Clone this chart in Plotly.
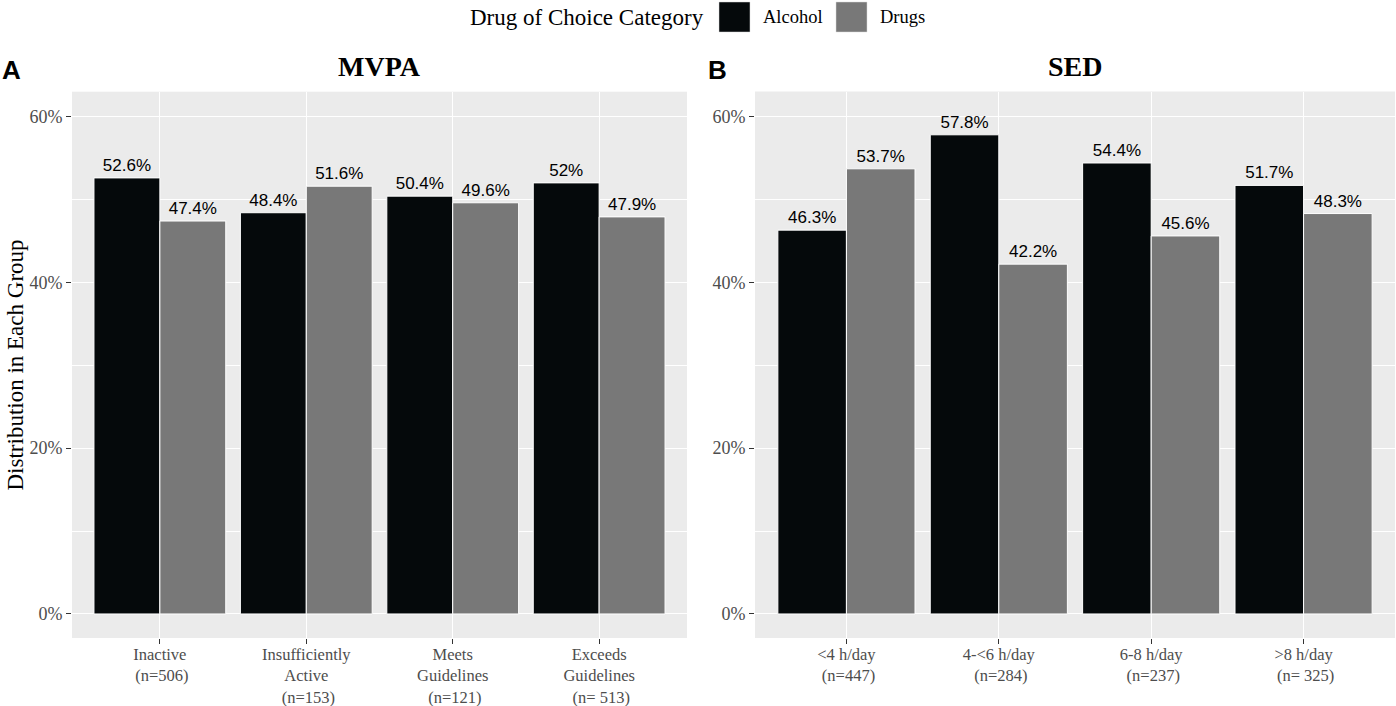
import plotly.graph_objects as go

# ---- data ----
mvpa_categories = ["Inactive<br> (n=506)", "Insufficiently<br>Active<br> (n=153)",
                   "Meets<br>Guidelines<br> (n=121)", "Exceeds<br>Guidelines<br> (n= 513)"]
mvpa_alcohol = [52.6, 48.4, 50.4, 52.0]
mvpa_drugs = [47.4, 51.6, 49.6, 47.9]

sed_categories = ["<4 h/day<br> (n=447)", "4-<6 h/day<br> (n=284)",
                  "6-8 h/day<br> (n=237)", ">8 h/day<br> (n= 325)"]
sed_alcohol = [46.3, 57.8, 54.4, 51.7]
sed_drugs = [53.7, 42.2, 45.6, 48.3]

y_ticks = [0, 20, 40, 60]
y_tick_labels = ["0%", "20%", "40%", "60%"]

series_names = ["Alcohol", "Drugs"]
series_colors = ["#05090B", "#787878"]

W, H = 1396, 706
SERIF = "Liberation Serif, Times New Roman, serif"
SANS = "Liberation Sans, Arial, sans-serif"


def fmt(v):
    return f"{v:g}%"


fig = go.Figure()
for xa, ya, cats, alc, drg in [("x", "y", mvpa_categories, mvpa_alcohol, mvpa_drugs),
                               ("x2", "y2", sed_categories, sed_alcohol, sed_drugs)]:
    for name, color, vals in zip(series_names, series_colors, [alc, drg]):
        fig.add_trace(go.Bar(
            x=cats, y=vals, name=name, xaxis=xa, yaxis=ya,
            marker=dict(color=color, line=dict(color="white", width=1)),
            text=[fmt(v) for v in vals], textposition="outside",
            textfont=dict(family=SANS, size=17, color="black"),
            cliponaxis=False, showlegend=False,
        ))


def px_x(p):
    return p / W


def px_y(p):
    return 1 - p / H


axis_common = dict(
    showgrid=True, gridcolor="white", gridwidth=1.3,
    ticks="outside", ticklen=5, tickcolor="#333333", tickwidth=1,
    tickfont=dict(family=SERIF, size=18, color="#4D4D4D"),
    zeroline=False, showline=False, automargin=False,
)
xaxis_common = dict(axis_common, range=[-0.6, 3.6],
                    tickfont=dict(family=SERIF, size=16.5, color="#4D4D4D"),
                    ticklabelstandoff=-4)
yrange = [-2.9, 63.0]
yaxis_common = dict(
    axis_common, range=yrange, tickvals=y_ticks, ticktext=y_tick_labels,
    minor=dict(tickvals=[10, 30, 50], showgrid=True, gridcolor="white", gridwidth=0.6, ticks=""),
)

fig.update_layout(
    width=W, height=H,
    margin=dict(l=0, r=0, t=0, b=0, autoexpand=False),
    paper_bgcolor="white", plot_bgcolor="#EBEBEB",
    barmode="group", bargap=0.1, bargroupgap=0,
    xaxis=dict(xaxis_common, domain=[px_x(72), px_x(687)], anchor="y"),
    yaxis=dict(yaxis_common, domain=[px_y(638), px_y(91.7)], anchor="x"),
    xaxis2=dict(xaxis_common, domain=[px_x(755), px_x(1395)], anchor="y2"),
    yaxis2=dict(yaxis_common, domain=[px_y(638), px_y(91.7)], anchor="x2"),
    font=dict(family=SERIF),
)

# grey background for the second panel
fig.add_shape(type="rect", xref="x2 domain", yref="y2 domain", x0=0, x1=1, y0=0, y1=1,
              fillcolor="#EBEBEB", line=dict(width=0), layer="below")

annotations = [
    dict(text="Distribution in Each Group", x=px_x(14.5), y=px_y(365), xref="paper", yref="paper",
         textangle=-90, showarrow=False, font=dict(family=SERIF, size=23, color="black"),
         xanchor="center", yanchor="middle"),
    dict(text="<b>MVPA</b>", x=(72 + 687) / 2 / W, y=px_y(67), xref="paper", yref="paper",
         showarrow=False, font=dict(family=SERIF, size=28, color="black"), xanchor="center", yanchor="middle"),
    dict(text="<b>SED</b>", x=(755 + 1395) / 2 / W, y=px_y(67), xref="paper", yref="paper",
         showarrow=False, font=dict(family=SERIF, size=28, color="black"), xanchor="center", yanchor="middle"),
    dict(text="<b>A</b>", x=px_x(0), y=px_y(70), xref="paper", yref="paper",
         showarrow=False, font=dict(family=SANS, size=26, color="black"), xanchor="left", yanchor="middle"),
    dict(text="<b>B</b>", x=px_x(706), y=px_y(70), xref="paper", yref="paper",
         showarrow=False, font=dict(family=SANS, size=26, color="black"), xanchor="left", yanchor="middle"),
    # legend
    dict(text="Drug of Choice Category", x=px_x(706), y=px_y(17), xref="paper", yref="paper",
         showarrow=False, font=dict(family=SERIF, size=23, color="black"), xanchor="right", yanchor="middle"),
    dict(text=series_names[0], x=px_x(761), y=px_y(17), xref="paper", yref="paper",
         showarrow=False, font=dict(family=SERIF, size=18.5, color="black"), xanchor="left", yanchor="middle"),
    dict(text=series_names[1], x=px_x(878), y=px_y(17), xref="paper", yref="paper",
         showarrow=False, font=dict(family=SERIF, size=18.5, color="black"), xanchor="left", yanchor="middle"),
]
fig.update_layout(annotations=annotations)

for x0, color in [(719, series_colors[0]), (836, series_colors[1])]:
    fig.add_shape(type="rect", xref="paper", yref="paper",
                  x0=px_x(x0), x1=px_x(x0 + 31), y0=px_y(32), y1=px_y(2),
                  fillcolor=color, line=dict(color="#D9D9D9", width=0.5))

fig.write_html(
    "out.html",
    config={"displayModeBar": False},
    post_script="document.body.style.margin='0';document.body.style.padding='0';"
                "document.body.style.overflow='hidden';",
)
